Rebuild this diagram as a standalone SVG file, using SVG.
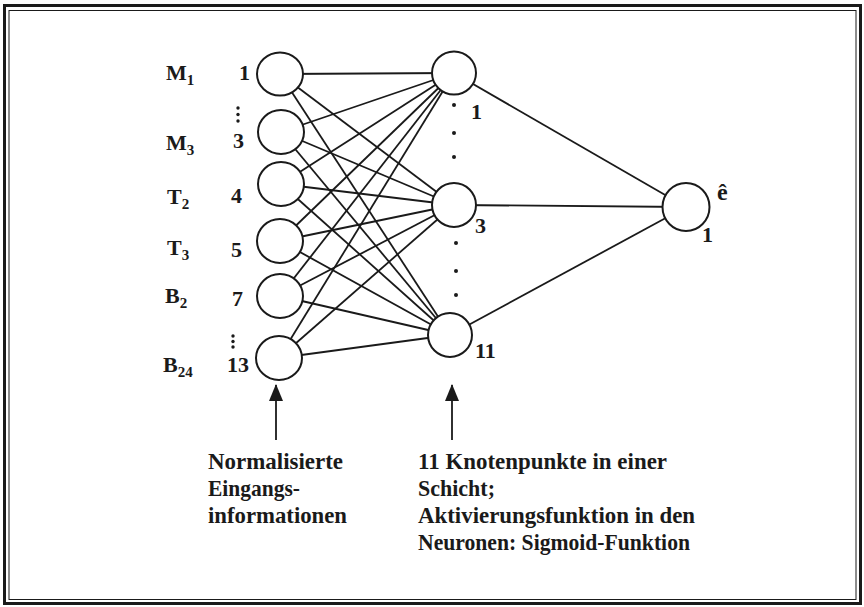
<svg xmlns="http://www.w3.org/2000/svg" width="864" height="607" viewBox="0 0 864 607">
<style>
text{font-family:"Liberation Serif","Times New Roman","DejaVu Serif",serif;font-weight:bold;fill:#1a1a1a;}
.lbl{font-size:22px;}
.sub{font-size:15px;}
.cap{font-size:23px;}
.node{fill:#fff;stroke:#1a1a1a;stroke-width:2;}
.edge{stroke:#1a1a1a;stroke-width:1.8;fill:none;}
.dot{fill:#1a1a1a;}
</style>
<defs>
<marker id="ah" markerWidth="17" markerHeight="14" refX="16" refY="7" orient="auto" markerUnits="userSpaceOnUse" viewBox="0 0 17 14">
<path d="M0,0 L17,7 L0,14 Z" fill="#1a1a1a"/>
</marker>
</defs>
<rect width="864" height="607" fill="#fff"/>
<rect x="4.5" y="5.5" width="856" height="598" fill="none" stroke="#1a1a1a" stroke-width="3"/>
<rect x="9" y="10.5" width="847" height="589" fill="none" stroke="#1a1a1a" stroke-width="1"/>

<g id="connectors">
<g class="edge">
<line x1="280" y1="74" x2="454" y2="73"/><line x1="280" y1="74" x2="454" y2="205"/><line x1="280" y1="74" x2="450" y2="335"/>
<line x1="281" y1="132" x2="454" y2="73"/><line x1="281" y1="132" x2="454" y2="205"/><line x1="281" y1="132" x2="450" y2="335"/>
<line x1="281" y1="184" x2="454" y2="73"/><line x1="281" y1="184" x2="454" y2="205"/><line x1="281" y1="184" x2="450" y2="335"/>
<line x1="280" y1="241" x2="454" y2="73"/><line x1="280" y1="241" x2="454" y2="205"/><line x1="280" y1="241" x2="450" y2="335"/>
<line x1="280" y1="296" x2="454" y2="73"/><line x1="280" y1="296" x2="454" y2="205"/><line x1="280" y1="296" x2="450" y2="335"/>
<line x1="279" y1="358" x2="454" y2="73"/><line x1="279" y1="358" x2="454" y2="205"/><line x1="279" y1="358" x2="450" y2="335"/>
<line x1="454" y1="73" x2="686" y2="207"/><line x1="454" y1="205" x2="686" y2="207"/><line x1="450" y1="335" x2="686" y2="207"/>
<line x1="276" y1="440" x2="276" y2="385" marker-end="url(#ah)"/>
<line x1="452" y1="440" x2="452" y2="385" marker-end="url(#ah)"/>
</g>
</g>

<g id="in1"><ellipse class="node" cx="280" cy="74" rx="23" ry="21.5"/></g>
<g id="in3"><ellipse class="node" cx="281" cy="132" rx="23" ry="22"/></g>
<g id="in4"><ellipse class="node" cx="281" cy="184" rx="23" ry="22"/></g>
<g id="in5"><ellipse class="node" cx="280" cy="241" rx="23" ry="22"/></g>
<g id="in7"><ellipse class="node" cx="280" cy="296" rx="23" ry="22"/></g>
<g id="in13"><ellipse class="node" cx="279" cy="358" rx="23" ry="22"/></g>
<g id="h1"><ellipse class="node" cx="454" cy="73" rx="22" ry="21.5"/></g>
<g id="h3"><ellipse class="node" cx="454" cy="205" rx="22" ry="22"/></g>
<g id="h11"><ellipse class="node" cx="450" cy="335" rx="22" ry="22"/></g>
<g id="out1"><ellipse class="node" cx="686" cy="207" rx="23.5" ry="24"/></g>

<g id="dots">
<circle class="dot" cx="238" cy="108" r="1.7"/><circle class="dot" cx="238" cy="114.5" r="1.7"/><circle class="dot" cx="238" cy="121" r="1.7"/>
<circle class="dot" cx="233" cy="336" r="1.7"/><circle class="dot" cx="233" cy="341.5" r="1.7"/><circle class="dot" cx="233" cy="347" r="1.7"/>
<circle class="dot" cx="454" cy="105" r="2"/><circle class="dot" cx="454" cy="133" r="2"/><circle class="dot" cx="454" cy="157" r="2"/>
<circle class="dot" cx="456" cy="243" r="2"/><circle class="dot" cx="456" cy="271" r="2"/><circle class="dot" cx="456" cy="295" r="2"/>
</g>

<g id="labels">
<text class="lbl" x="166" y="80">M<tspan class="sub" dy="5">1</tspan></text>
<text class="lbl" x="166" y="150">M<tspan class="sub" dy="5">3</tspan></text>
<text class="lbl" x="167" y="204">T<tspan class="sub" dy="5">2</tspan></text>
<text class="lbl" x="167" y="255">T<tspan class="sub" dy="5">3</tspan></text>
<text class="lbl" x="165" y="303">B<tspan class="sub" dy="5">2</tspan></text>
<text class="lbl" x="163" y="372">B<tspan class="sub" dy="5">24</tspan></text>
<text class="lbl" x="239" y="80">1</text>
<text class="lbl" x="233" y="148">3</text>
<text class="lbl" x="231" y="203">4</text>
<text class="lbl" x="231" y="257">5</text>
<text class="lbl" x="232" y="306">7</text>
<text class="lbl" x="227" y="372">13</text>
<text class="lbl" x="471" y="119">1</text>
<text class="lbl" x="475" y="233">3</text>
<text class="lbl" x="475" y="358">11</text>
<text class="lbl" x="702" y="242">1</text>
<text class="lbl" x="717" y="200" style="font-size:24px">ê</text>
</g>

<g id="captions">
<text class="cap" x="208" y="469" textLength="135" lengthAdjust="spacingAndGlyphs">Normalisierte</text>
<text class="cap" x="208" y="496" textLength="92" lengthAdjust="spacingAndGlyphs">Eingangs-</text>
<text class="cap" x="208" y="523" textLength="139" lengthAdjust="spacingAndGlyphs">informationen</text>
<text class="cap" x="418" y="469" textLength="249" lengthAdjust="spacingAndGlyphs">11 Knotenpunkte in einer</text>
<text class="cap" x="418" y="496" textLength="77" lengthAdjust="spacingAndGlyphs">Schicht;</text>
<text class="cap" x="418" y="523" textLength="277" lengthAdjust="spacingAndGlyphs">Aktivierungsfunktion in den</text>
<text class="cap" x="418" y="550" textLength="272" lengthAdjust="spacingAndGlyphs">Neuronen: Sigmoid-Funktion</text>
</g>
</svg>
